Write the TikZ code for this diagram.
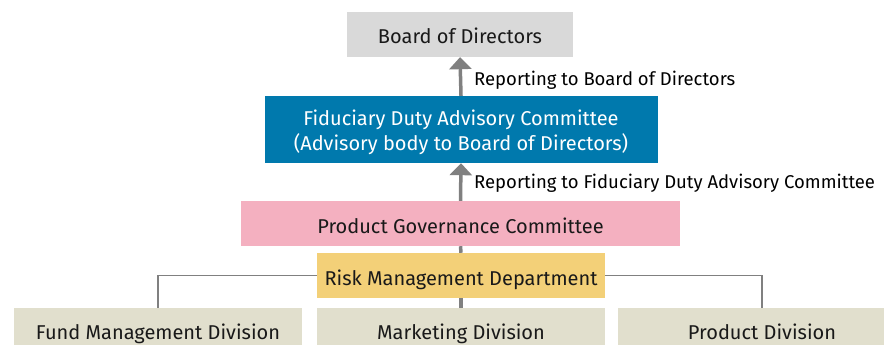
\documentclass[tikz,border=0pt]{standalone}
\usepackage{fontspec}
\setmainfont{Fira Sans}
\usetikzlibrary{arrows.meta,positioning}
\definecolor{boardgray}{RGB}{217,217,217}
\definecolor{fdacblue}{RGB}{0,121,173}
\definecolor{pgcpink}{RGB}{244,176,192}
\definecolor{riskyellow}{RGB}{243,208,120}
\definecolor{divbeige}{RGB}{225,223,205}
\definecolor{linegray}{RGB}{128,128,128}
\tikzset{
    unit/.style={
        rectangle,
        inner sep=0pt,
        text height=19pt,
        text depth=0pt,
        font=\fontsize{20}{25}\selectfont,
        text=black!90
    },
    report/.style={
        linegray,
        line width=3.5pt,
        -{Triangle[width=22pt,length=12pt]}
    },
    link/.style={
        linegray,
        line width=1.8pt
    },
    note/.style={
        anchor=base west,
        inner sep=0pt,
        font=\fontsize{18.5}{21}\selectfont
    }
}

\begin{document}
\begin{tikzpicture}[x=1pt,y=-1pt]
\useasboundingbox (0,0) rectangle (884,345);
\clip (0,0) rectangle (884,345);
\node[unit,fill=boardgray,minimum width=226pt,minimum height=45pt] (board) at (460,34.5) {Board of Directors};
\node[unit,fill=fdacblue,text=white,align=center,text height=41pt,minimum width=393pt,minimum height=67pt] (fdac) at (461,129.5)
  {Fiduciary Duty Advisory Committee\\(Advisory body to Board of Directors)};
\node[unit,fill=pgcpink,minimum width=439pt,minimum height=45pt] (pgc) at (460.5,223.5) {Product Governance Committee};
\node[unit,fill=riskyellow,minimum width=288pt,minimum height=45pt] (risk) at (461,275.5) {Risk Management Department};
\node[unit,fill=divbeige,minimum width=288pt,minimum height=44pt] (fund) at (158,330) {Fund Management Division};
\node[unit,fill=divbeige,minimum width=288pt,minimum height=44pt] (mkt) at (461,330) {Marketing Division};
\node[unit,fill=divbeige,minimum width=288pt,minimum height=44pt] (prod) at (762,330) {Product Division};
\draw[link] (risk.west) -| (fund.north);
\draw[link] (risk.east) -| (prod.north);
\draw[link,line width=3.5pt] (pgc.south) -- (risk.north);
\draw[link,line width=3.5pt] (risk.south) -- (mkt.north);
\draw[report] (fdac.north) -- (board.south);
\draw[report] (pgc.north) -- (fdac.south);
\node[note] (rep1) at (474,85) {Reporting to Board of Directors};
\node[note] (rep2) at (474,188) {Reporting to Fiduciary Duty Advisory Committee};
\end{tikzpicture}
\end{document}
